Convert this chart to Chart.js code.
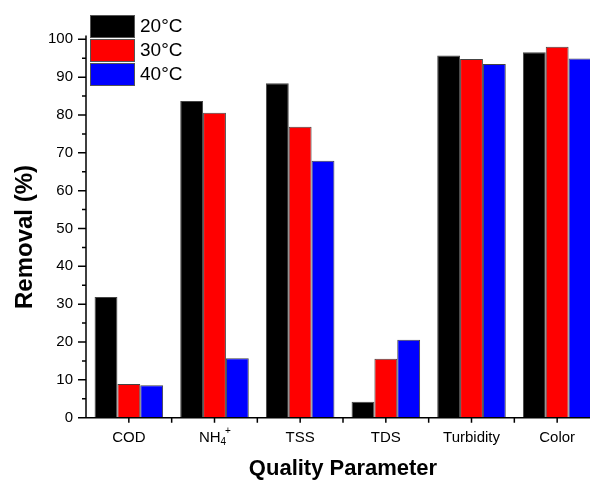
<!DOCTYPE html>
<html>
<head>
<meta charset="utf-8">
<script src="https://cdn.jsdelivr.net/npm/chart.js@4/dist/chart.umd.min.js"></script>
<style>
  html, body { margin: 0; padding: 0; background: #fff; overflow: hidden; }
  #wrap { width: 600px; height: 482px; }
</style>
</head>
<body>
<div id="wrap"><canvas id="removalChart" width="600" height="482"></canvas></div>
<script>
const categories = ['COD', 'NH4+', 'TSS', 'TDS', 'Turbidity', 'Color'];
const temps = ['20°C', '30°C', '40°C'];
const removal20 = [31.9, 83.7, 88.4, 4.2, 95.7, 96.6];
const removal30 = [8.9, 80.6, 76.9, 15.6, 94.8, 98.0];
const removal40 = [8.6, 15.7, 67.9, 20.6, 93.5, 94.9];
const barColors = ['#000000', '#ff0000', '#0000ff'];
const yTicks = [0, 10, 20, 30, 40, 50, 60, 70, 80, 90, 100];
const yMinor = [5, 15, 25, 35, 45, 55, 65, 75, 85, 95];

const FONT = "'Liberation Sans', Arial, sans-serif";

// axes, ticks, labels, titles and legend drawn by hand
const decorations = {
  id: 'decorations',
  afterDraw(chart) {
    const ctx = chart.ctx;
    const area = chart.chartArea;
    const xs = chart.scales.x;
    const ys = chart.scales.y;
    ctx.save();
    ctx.strokeStyle = '#000';
    ctx.lineWidth = 1.5;

    // y axis line + ticks
    ctx.beginPath();
    ctx.moveTo(area.left, area.bottom);
    ctx.lineTo(area.left, area.top);
    yTicks.forEach(v => {
      const y = ys.getPixelForValue(v);
      ctx.moveTo(area.left - 8, y);
      ctx.lineTo(area.left, y);
    });
    yMinor.forEach(v => {
      const y = ys.getPixelForValue(v);
      ctx.moveTo(area.left - 4, y);
      ctx.lineTo(area.left, y);
    });
    // x axis line + ticks at centres and between groups
    ctx.moveTo(area.left, area.bottom);
    ctx.lineTo(area.right, area.bottom);
    const step = xs.width / categories.length;
    categories.forEach((c, i) => {
      const x = xs.getPixelForValue(i);
      ctx.moveTo(x, area.bottom);
      ctx.lineTo(x, area.bottom + 5);
      const xb = x + step / 2;
      ctx.moveTo(xb, area.bottom);
      ctx.lineTo(xb, area.bottom + 5);
    });
    ctx.stroke();

    // category labels
    ctx.fillStyle = '#000';
    ctx.textBaseline = 'middle';
    const ly = area.bottom + 20;
    categories.forEach((c, i) => {
      const x = xs.getPixelForValue(i);
      if (c === 'NH4+') {
        ctx.font = '15px ' + FONT;
        const w1 = ctx.measureText('NH').width;
        ctx.font = '10px ' + FONT;
        const w2 = ctx.measureText('4').width;
        const total = w1 + w2 + 4;
        let sx = x - total / 2;
        ctx.textAlign = 'left';
        ctx.font = '15px ' + FONT;
        ctx.fillText('NH', sx, ly);
        ctx.font = '10px ' + FONT;
        ctx.fillText('4', sx + w1, ly + 5);
        ctx.fillText('+', sx + w1 + w2 - 1, ly - 6);
      } else {
        ctx.font = '15px ' + FONT;
        ctx.textAlign = 'center';
        ctx.fillText(c, x, ly);
      }
    });

    // axis titles
    ctx.font = 'bold 22px ' + FONT;
    ctx.textAlign = 'center';
    ctx.fillText('Quality Parameter', (area.left + area.right) / 2, 469);
    ctx.save();
    ctx.translate(25, 237);
    ctx.rotate(-Math.PI / 2);
    ctx.font = 'bold 24px ' + FONT;
    ctx.fillText('Removal (%)', 0, 0);
    ctx.restore();

    // legend
    ctx.lineWidth = 1;
    ctx.strokeStyle = '#555';
    chart.data.datasets.forEach((ds, i) => {
      const top = 15 + i * 24;
      ctx.fillStyle = ds.backgroundColor;
      ctx.fillRect(90, top, 44, 22);
      ctx.strokeRect(90.5, top + 0.5, 44, 22);
      ctx.fillStyle = '#000';
      ctx.font = '19px ' + FONT;
      ctx.textAlign = 'left';
      ctx.fillText(ds.label, 140, top + 11.5);
    });
    ctx.restore();
  }
};

const ctx = document.getElementById('removalChart').getContext('2d');
const removalChart = new Chart(ctx, {
  type: 'bar',
  data: {
    labels: categories,
    datasets: [removal20, removal30, removal40].map((vals, i) => ({
      label: temps[i],
      data: vals,
      backgroundColor: barColors[i],
      borderColor: '#444',
      borderWidth: 1,
      barPercentage: 1.0,
      categoryPercentage: 0.8
    }))
  },
  options: {
    responsive: false,
    animation: false,
    devicePixelRatio: 1,
    layout: { padding: { top: 35.5, left: 0, right: 0, bottom: 0 } },
    plugins: { legend: { display: false }, tooltip: { enabled: false } },
    scales: {
      x: {
        grid: { display: false },
        border: { display: false },
        ticks: { display: false },
        afterFit: s => { s.height = 64.3; }
      },
      y: {
        min: 0,
        max: 101,
        grid: { display: false, drawTicks: false },
        border: { display: false },
        ticks: { padding: 13, color: '#000', font: { family: FONT, size: 15 } },
        afterBuildTicks: s => { s.ticks = yTicks.map(v => ({ value: v })); },
        afterFit: s => { s.width = 86; }
      }
    }
  },
  plugins: [decorations]
});
</script>
</body>
</html>
